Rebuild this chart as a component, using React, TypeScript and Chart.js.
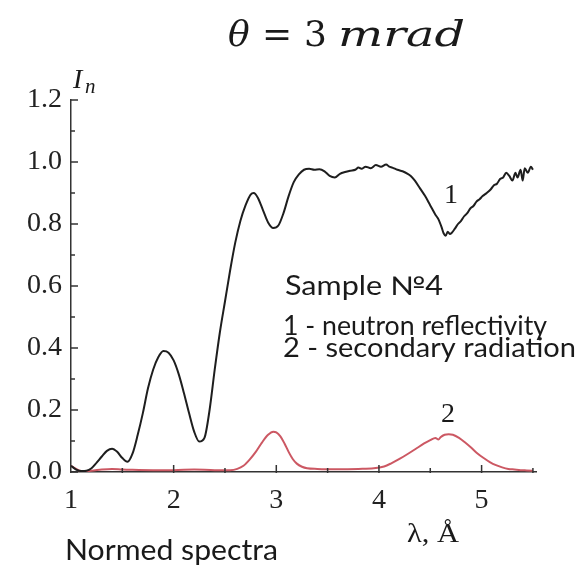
import React, { useEffect, useRef } from "react";
import { Chart, registerables } from "chart.js";

Chart.register(...registerables);

const W = 580;
const H = 572;

// Curve 1 - neutron reflectivity
const lambda1 = [
  1.0, 1.05, 1.1, 1.15, 1.2, 1.25, 1.3, 1.35, 1.4, 1.45, 1.5, 1.55, 1.6, 1.65, 1.7, 1.75, 1.8, 1.85, 1.9, 1.95,
  2.0, 2.05, 2.1, 2.15, 2.2, 2.25, 2.3, 2.35, 2.4, 2.45, 2.5, 2.55, 2.6, 2.65, 2.7, 2.75, 2.78, 2.82, 2.87, 2.92,
  2.97, 3.02, 3.07, 3.12, 3.17, 3.22, 3.27, 3.32, 3.37, 3.42, 3.47, 3.52, 3.57, 3.62, 3.67, 3.72, 3.77, 3.8, 3.83, 3.87,
  3.92, 3.97, 4.02, 4.07, 4.1, 4.13, 4.18, 4.23, 4.28, 4.31, 4.35, 4.4, 4.45, 4.5, 4.55, 4.58, 4.61, 4.63, 4.65, 4.67,
  4.69, 4.71, 4.74, 4.77, 4.8, 4.83, 4.86, 4.89, 4.92, 4.95, 4.98, 5.01, 5.05, 5.09, 5.12, 5.15, 5.18, 5.21, 5.24, 5.27,
  5.3, 5.33, 5.35, 5.38, 5.4, 5.42, 5.45, 5.48, 5.5,
];
const reflectivity = [
  0.02, 0.008, 0.003, 0.004, 0.012, 0.03, 0.05, 0.068, 0.075, 0.065, 0.045, 0.033, 0.06, 0.12, 0.19, 0.27, 0.33, 0.37, 0.39, 0.385,
  0.36, 0.315, 0.255, 0.19, 0.13, 0.098, 0.11, 0.2, 0.33, 0.45, 0.55, 0.65, 0.74, 0.81, 0.86, 0.895, 0.9, 0.885, 0.845, 0.805,
  0.787, 0.795, 0.835, 0.89, 0.935, 0.96, 0.975, 0.978, 0.975, 0.977, 0.97, 0.955, 0.95, 0.962, 0.968, 0.972, 0.975, 0.982, 0.978, 0.985,
  0.98, 0.99, 0.985, 0.992, 0.985, 0.982, 0.975, 0.97, 0.962, 0.955, 0.94, 0.915, 0.89, 0.86, 0.83, 0.815, 0.79, 0.77, 0.762, 0.775,
  0.768, 0.772, 0.785, 0.8, 0.81, 0.825, 0.835, 0.85, 0.858, 0.872, 0.88, 0.89, 0.9, 0.912, 0.925, 0.93, 0.945, 0.95, 0.965, 0.955,
  0.94, 0.965, 0.95, 0.975, 0.94, 0.98, 0.965, 0.985, 0.975,
];

// Curve 2 - secondary radiation
const lambda2 = [
  1.0, 1.05, 1.1, 1.2, 1.3, 1.4, 1.5, 1.6, 1.8, 2.0, 2.2, 2.4, 2.55, 2.62, 2.68, 2.74, 2.8, 2.86, 2.92, 2.97,
  3.0, 3.04, 3.08, 3.12, 3.16, 3.2, 3.25, 3.3, 3.4, 3.6, 3.8, 3.95, 4.05, 4.12, 4.2, 4.28, 4.36, 4.44, 4.5, 4.55,
  4.58, 4.6, 4.64, 4.68, 4.72, 4.78, 4.84, 4.9, 4.96, 5.02, 5.08, 5.14, 5.2, 5.26, 5.32, 5.38, 5.44, 5.5,
];
const secondary = [
  0.02, 0.01, 0.003, 0.004, 0.008, 0.01, 0.008, 0.007, 0.006, 0.006, 0.008, 0.006, 0.006, 0.01, 0.02, 0.04, 0.065, 0.095, 0.12, 0.13,
  0.128, 0.115, 0.092, 0.065, 0.042, 0.027, 0.017, 0.012, 0.01, 0.009, 0.01, 0.012, 0.018, 0.028, 0.042, 0.058, 0.075, 0.092, 0.103, 0.11,
  0.105, 0.112, 0.12, 0.122, 0.12, 0.11, 0.095, 0.078, 0.06, 0.045, 0.032, 0.022, 0.015, 0.01, 0.008, 0.006, 0.005, 0.004,
];

const xTicks = [1, 2, 3, 4, 5];
const yTicks = [0, 0.2, 0.4, 0.6, 0.8, 1.0, 1.2];

const SERIF = "'Liberation Serif', 'Times New Roman', serif";
const MATH = "'DejaVu Serif', 'Liberation Serif', serif";
const SANS = "Lato, 'Open Sans', sans-serif";

function drawFit(ctx: CanvasRenderingContext2D, text: string, x: number, y: number, font: string, width?: number) {
  ctx.font = font;
  if (width) {
    const w = ctx.measureText(text).width;
    ctx.save();
    ctx.translate(x, y);
    ctx.scale(width / w, 1);
    ctx.fillText(text, 0, 0);
    ctx.restore();
  } else {
    ctx.fillText(text, x, y);
  }
}

const annotations = {
  id: "annotations",
  afterDraw(chart: any) {
    const ctx: CanvasRenderingContext2D = chart.ctx;
    const xs = chart.scales.x;
    const ys = chart.scales.y;
    const x0 = xs.getPixelForValue(xs.min);
    const y0 = ys.getPixelForValue(0);
    ctx.save();
    // tick marks (inside)
    ctx.strokeStyle = "#333";
    ctx.lineWidth = 1.5;
    ctx.beginPath();
    for (let v = 0; v <= 1.2001; v += 0.1) {
      const py = ys.getPixelForValue(v);
      const major = Math.round(v * 10) % 2 === 0;
      ctx.moveTo(x0, py);
      ctx.lineTo(x0 + (major ? 7 : 4), py);
    }
    for (let v = 1.5; v <= 5.5001; v += 0.5) {
      const px = xs.getPixelForValue(v);
      const major = Math.abs(v - Math.round(v)) < 1e-6;
      ctx.moveTo(px, y0 + 1);
      ctx.lineTo(px, y0 - (major ? 7 : 4));
    }
    ctx.stroke();

    ctx.fillStyle = "#1a1a1a";
    ctx.textBaseline = "alphabetic";
    ctx.textAlign = "left";
    // title: θ = 3 mrad
    const tb = 46;
    ctx.font = `italic 36px ${MATH}`;
    ctx.fillText("θ", 228, tb);
    ctx.font = `36px ${MATH}`;
    ctx.fillText("=", 262, tb);
    ctx.fillText("3", 304, tb);
    drawFit(ctx, "mrad", 338, tb, `italic 36px ${MATH}`, 127);

    // axis title I_n
    ctx.font = `italic 28px ${SERIF}`;
    ctx.fillText("I", 73, 88);
    ctx.font = `italic 21px ${SERIF}`;
    ctx.fillText("n", 85, 93);

    // x axis label
    drawFit(ctx, "λ, Å", 407, 542, `27px ${SERIF}`, 52);

    // curve labels
    ctx.textAlign = "center";
    ctx.font = `28px ${SERIF}`;
    ctx.fillText("1", 451, 203);
    ctx.fillText("2", 448, 422);
    ctx.textAlign = "left";

    // legend text
    drawFit(ctx, "Sample №4", 285, 295, `26px ${SANS}`, 158);
    drawFit(ctx, "1 - neutron reflectivity", 283, 335, `26px ${SANS}`, 264);
    drawFit(ctx, "2 - secondary radiation", 283, 357, `26px ${SANS}`, 293);
    drawFit(ctx, "Normed spectra", 65, 560, `28px ${SANS}`, 213);
    ctx.restore();
  },
};

export default function App() {
  const ref = useRef<HTMLCanvasElement>(null);
  useEffect(() => {
    const chart = new Chart(ref.current as HTMLCanvasElement, {
      type: "line",
      data: {
        datasets: [
          {
            label: "1 - neutron reflectivity",
            data: lambda1.map((x, i) => ({ x, y: reflectivity[i] })),
            borderColor: "#1e1e1e",
            borderWidth: 2,
            pointRadius: 0,
            cubicInterpolationMode: "monotone",
            fill: false,
          },
          {
            label: "2 - secondary radiation",
            data: lambda2.map((x, i) => ({ x, y: secondary[i] })),
            borderColor: "#cc5863",
            borderWidth: 2,
            pointRadius: 0,
            cubicInterpolationMode: "monotone",
            fill: false,
          },
        ],
      },
      options: {
        responsive: false,
        animation: false,
        devicePixelRatio: 1,
        layout: { padding: { top: 100, right: 44, left: 0, bottom: 0 } },
        plugins: {
          legend: { display: false },
          tooltip: { enabled: false },
          title: { display: false },
        },
        scales: {
          x: {
            type: "linear",
            min: 1,
            max: 5.53,
            afterFit: (s: any) => {
              s.height = 100;
            },
            afterBuildTicks: (s: any) => {
              s.ticks = xTicks.map((v) => ({ value: v }));
            },
            grid: { display: false, drawTicks: false },
            border: { display: true, color: "#333", width: 1.5 },
            ticks: {
              padding: 12,
              color: "#222",
              maxRotation: 0,
              autoSkip: false,
              font: { family: SERIF, size: 28 },
              callback: (v: any) => String(v),
            },
          },
          y: {
            type: "linear",
            min: 0,
            max: 1.2,
            afterFit: (s: any) => {
              s.width = 71;
            },
            afterBuildTicks: (s: any) => {
              s.ticks = yTicks.map((v) => ({ value: v }));
            },
            grid: { display: false, drawTicks: false },
            border: { display: true, color: "#333", width: 1.5 },
            ticks: {
              padding: 9,
              color: "#222",
              autoSkip: false,
              font: { family: SERIF, size: 28 },
              callback: (v: any) => Number(v).toFixed(1),
            },
          },
        },
      },
      plugins: [annotations],
    });
    return () => chart.destroy();
  }, []);
  return (
    <div style={{ position: "absolute", left: 0, top: 0, width: W, height: H, background: "#fff" }}>
      <canvas ref={ref} width={W} height={H} style={{ display: "block" }} />
    </div>
  );
}
